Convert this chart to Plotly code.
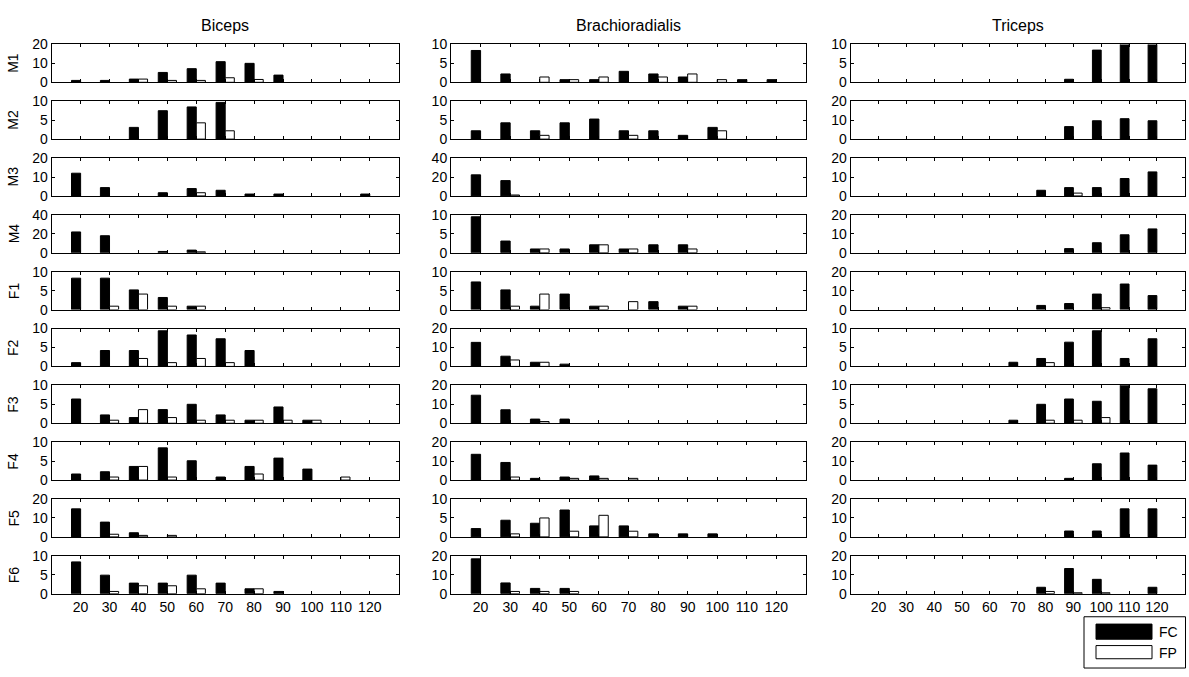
import plotly.graph_objects as go

SPEEDS = [20, 30, 40, 50, 60, 70, 80, 90, 100, 110, 120]
SUBJECTS = ["M1", "M2", "M3", "M4", "F1", "F2", "F3", "F4", "F5", "F6"]
MUSCLES = ["Biceps", "Brachioradialis", "Triceps"]

BICEPS_FC = [
    [1.0, 1.0, 1.7, 5.2, 7.2, 10.9, 10.0, 3.8, 0, 0, 0],
    [0, 0, 3.1, 7.5, 8.5, 9.7, 0, 0, 0, 0, 0],
    [12.0, 4.4, 0, 1.7, 3.9, 3.0, 1.0, 1.0, 0, 0, 1.0],
    [22, 18, 0, 1.4, 2.8, 0, 0, 0, 0, 0, 0],
    [8.3, 8.3, 5.2, 3.2, 0.9, 0, 0, 0, 0, 0, 0],
    [1.0, 4.2, 4.2, 9.4, 8.3, 7.3, 4.2, 0, 0, 0, 0],
    [6.4, 2.2, 1.5, 3.6, 5.0, 2.2, 0.8, 4.3, 0.8, 0, 0],
    [1.6, 2.2, 3.6, 8.5, 5.1, 0.8, 3.6, 5.8, 2.9, 0, 0],
    [14.8, 7.8, 2.2, 0, 0, 0, 0, 0, 0, 0, 0],
    [8.4, 4.9, 2.8, 2.8, 4.9, 2.8, 1.3, 0.6, 0, 0, 0],
]
BICEPS_FP = [
    [0, 0, 1.7, 1.0, 1.0, 2.4, 1.5, 0, 0, 0, 0],
    [0, 0, 0, 0, 4.3, 2.2, 0, 0, 0, 0, 0],
    [0, 0, 0, 0, 1.7, 0, 0, 0, 0, 0, 0],
    [0, 0, 0, 0, 1.0, 0, 0, 0, 0, 0, 0],
    [0, 0.9, 4.1, 0.9, 0.9, 0, 0, 0, 0, 0, 0],
    [0, 0, 2.1, 1.0, 2.1, 1.0, 0, 0, 0, 0, 0],
    [0, 0.8, 3.6, 1.5, 0.8, 0.8, 0.8, 0.8, 0.8, 0, 0],
    [0, 0.8, 3.6, 0.8, 0, 0, 1.6, 0, 0, 0.8, 0],
    [0, 1.4, 0.8, 0.8, 0, 0, 0, 0, 0, 0, 0],
    [0, 0.6, 2.1, 2.1, 1.3, 0, 1.3, 0, 0, 0, 0],
]
BRACHIO_FC = [
    [8.4, 2.2, 0, 0.7, 0.7, 2.9, 2.2, 1.4, 0, 0.7, 0.7],
    [2.2, 4.3, 2.2, 4.3, 5.3, 2.2, 2.2, 1.0, 3.1, 0, 0],
    [22.3, 16.2, 0, 0, 0, 0, 0, 0, 0, 0, 0],
    [9.5, 3.1, 1.0, 1.0, 2.1, 1.0, 2.1, 2.1, 0, 0, 0],
    [7.3, 5.2, 0.9, 4.1, 0.9, 0, 2.1, 0.9, 0, 0, 0],
    [12.7, 5.4, 2.2, 1.2, 0, 0, 0, 0, 0, 0, 0],
    [14.8, 7.1, 2.2, 2.2, 0, 0, 0, 0, 0, 0, 0],
    [13.6, 9.3, 0.9, 1.6, 2.2, 0, 0, 0, 0, 0, 0],
    [2.2, 4.4, 3.6, 7.1, 2.9, 2.9, 0.8, 0.8, 0.8, 0, 0],
    [18.4, 5.7, 2.8, 2.8, 0, 0, 0, 0, 0, 0, 0],
]
BRACHIO_FP = [
    [0, 0, 1.4, 0.7, 1.4, 0, 1.4, 2.2, 0.7, 0, 0],
    [0, 0, 1.0, 0, 0, 1.0, 0, 0, 2.2, 0, 0],
    [0, 1.0, 0, 0, 0, 0, 0, 0, 0, 0, 0],
    [0, 0, 1.0, 0, 2.1, 1.0, 0, 1.0, 0, 0, 0],
    [0, 0.9, 4.1, 0, 0.9, 2.1, 0, 0.9, 0, 0, 0],
    [0, 3.4, 2.2, 0, 0, 0, 0, 0, 0, 0, 0],
    [0, 0, 0.9, 0, 0, 0, 0, 0, 0, 0, 0],
    [0, 1.6, 0, 0.9, 0.9, 0.9, 0, 0, 0, 0, 0],
    [0, 0.8, 5.0, 1.5, 5.7, 1.5, 0, 0, 0, 0, 0],
    [0, 1.2, 1.2, 1.2, 0, 0, 0, 0, 0, 0, 0],
]
TRICEPS_FC = [
    [0, 0, 0, 0, 0, 0, 0, 0.8, 8.5, 11, 11],
    [0, 0, 0, 0, 0, 0, 0, 6.6, 9.7, 10.8, 9.7],
    [0, 0, 0, 0, 0, 0, 3.0, 4.4, 4.4, 9.2, 12.7],
    [0, 0, 0, 0, 0, 0, 0, 2.2, 5.3, 9.5, 12.6],
    [0, 0, 0, 0, 0, 0, 2.2, 3.2, 8.2, 13.5, 7.4],
    [0, 0, 0, 0, 0, 1.1, 2.1, 6.4, 9.4, 2.1, 7.3],
    [0, 0, 0, 0, 0, 0.8, 5.0, 6.4, 5.8, 11, 9.1],
    [0, 0, 0, 0, 0, 0, 0, 0.9, 8.6, 14.3, 7.9],
    [0, 0, 0, 0, 0, 0, 0, 3.1, 3.1, 14.8, 14.8],
    [0, 0, 0, 0, 0, 0, 3.4, 13.3, 7.6, 0, 3.4],
]
TRICEPS_FP = [
    [0, 0, 0, 0, 0, 0, 0, 0, 0, 0, 0],
    [0, 0, 0, 0, 0, 0, 0, 0, 0, 0, 0],
    [0, 0, 0, 0, 0, 0, 0, 1.5, 0, 0, 0],
    [0, 0, 0, 0, 0, 0, 0, 0, 0, 0, 0],
    [0, 0, 0, 0, 0, 0, 0, 0, 1.0, 0, 0],
    [0, 0, 0, 0, 0, 0, 1.0, 0, 0, 0, 0],
    [0, 0, 0, 0, 0, 0, 0.8, 0.8, 1.5, 0, 0],
    [0, 0, 0, 0, 0, 0, 0, 0, 0, 0, 0],
    [0, 0, 0, 0, 0, 0, 0, 0, 0, 0, 0],
    [0, 0, 0, 0, 0, 0, 1.2, 0.5, 0.5, 0, 0],
]
YMAX_BICEPS = [20, 10, 20, 40, 10, 10, 10, 10, 20, 10]
YMAX_BRACHIO = [10, 10, 40, 10, 10, 20, 20, 20, 10, 20]
YMAX_TRICEPS = [10, 20, 20, 20, 20, 10, 10, 20, 20, 20]

FC_DATA = [BICEPS_FC, BRACHIO_FC, TRICEPS_FC]
FP_DATA = [BICEPS_FP, BRACHIO_FP, TRICEPS_FP]
YMAX = [YMAX_BICEPS, YMAX_BRACHIO, YMAX_TRICEPS]

W, H = 1189, 677
COL_PX = [(51.7, 398.7), (451.0, 806.0), (850.7, 1184.7)]
ROW_TOP0, ROW_STEP, ROW_H = 37.3, 58.2, 38.8
FONT = "Liberation Sans, Arial, sans-serif"


def hide_zero(vals):
    # zero-height bars are not drawn
    return [v if v else None for v in vals]


fig = go.Figure()
layout = {}
annotations = []

for c in range(3):
    x0, x1 = COL_PX[c]
    for r in range(10):
        idx = c * 10 + r + 1
        sfx = "" if idx == 1 else str(idx)
        xa, ya = "x" + sfx, "y" + sfx
        fig.add_trace(go.Bar(
            x=SPEEDS, y=hide_zero(FC_DATA[c][r]), xaxis=xa, yaxis=ya, name="FC",
            marker=dict(color="black", line=dict(color="black", width=1)),
            showlegend=False))
        fig.add_trace(go.Bar(
            x=SPEEDS, y=hide_zero(FP_DATA[c][r]), xaxis=xa, yaxis=ya, name="FP",
            marker=dict(color="white", line=dict(color="black", width=1)),
            showlegend=False))
        top = ROW_TOP0 + ROW_STEP * r
        bot = top + ROW_H
        ymax = YMAX[c][r]
        common = dict(showline=True, linecolor="black", linewidth=1, mirror="ticks",
                      ticks="inside", ticklen=3, tickcolor="black", showgrid=False,
                      zeroline=False, tickfont=dict(family=FONT, size=14, color="black"))
        layout["xaxis" + sfx] = dict(
            domain=[x0 / W, x1 / W], range=[10, 130], tickvals=SPEEDS,
            ticktext=[str(s) for s in SPEEDS], showticklabels=(r == 9),
            anchor=ya, fixedrange=True, **common)
        layout["yaxis" + sfx] = dict(
            domain=[1 - bot / H, 1 - top / H], range=[0, ymax],
            tickvals=[0, ymax / 2, ymax],
            ticktext=["0", str(int(ymax / 2)), str(ymax)],
            anchor=xa, fixedrange=True, **common)
        if c == 0:
            annotations.append(dict(
                text=SUBJECTS[r], xref="paper", yref="paper",
                x=13.5 / W, y=1 - (top + ROW_H / 2) / H, textangle=-90,
                showarrow=False, xanchor="center", yanchor="middle",
                font=dict(family=FONT, size=14, color="black")))
    annotations.append(dict(
        text=MUSCLES[c], xref="paper", yref="paper",
        x=(x0 + x1) / 2 / W, y=1 - 18 / H, showarrow=False,
        xanchor="center", yanchor="middle",
        font=dict(family=FONT, size=16, color="black")))


def px(x, y):
    return x / W, 1 - y / H


shapes = []
lx0, ly0 = px(1084, 623.5)
lx1, ly1 = px(1185.5, 676)
shapes.append(dict(type="rect", xref="paper", yref="paper", x0=lx0, y0=ly1, x1=lx1, y1=ly0,
                   line=dict(color="black", width=1), fillcolor="white"))
a0, b0 = px(1096, 631)
a1, b1 = px(1152, 646.5)
shapes.append(dict(type="rect", xref="paper", yref="paper", x0=a0, y0=b1, x1=a1, y1=b0,
                   line=dict(color="black", width=1), fillcolor="black"))
a0, b0 = px(1096, 653)
a1, b1 = px(1152, 666.5)
shapes.append(dict(type="rect", xref="paper", yref="paper", x0=a0, y0=b1, x1=a1, y1=b0,
                   line=dict(color="black", width=1), fillcolor="white"))
for label, yy in (("FC", 639), ("FP", 660.5)):
    annotations.append(dict(text=label, xref="paper", yref="paper",
                            x=1157 / W, y=1 - yy / H, showarrow=False,
                            xanchor="left", yanchor="middle",
                            font=dict(family=FONT, size=14, color="black")))

fig.update_layout(
    width=W, height=H, margin=dict(l=0, r=0, t=0, b=0),
    paper_bgcolor="white", plot_bgcolor="white",
    barmode="group", bargap=0.37, bargroupgap=0,
    showlegend=False, annotations=annotations, shapes=shapes,
    font=dict(family=FONT, color="black"),
    **layout)

fig.write_html("out.html", config={"displayModeBar": False})
